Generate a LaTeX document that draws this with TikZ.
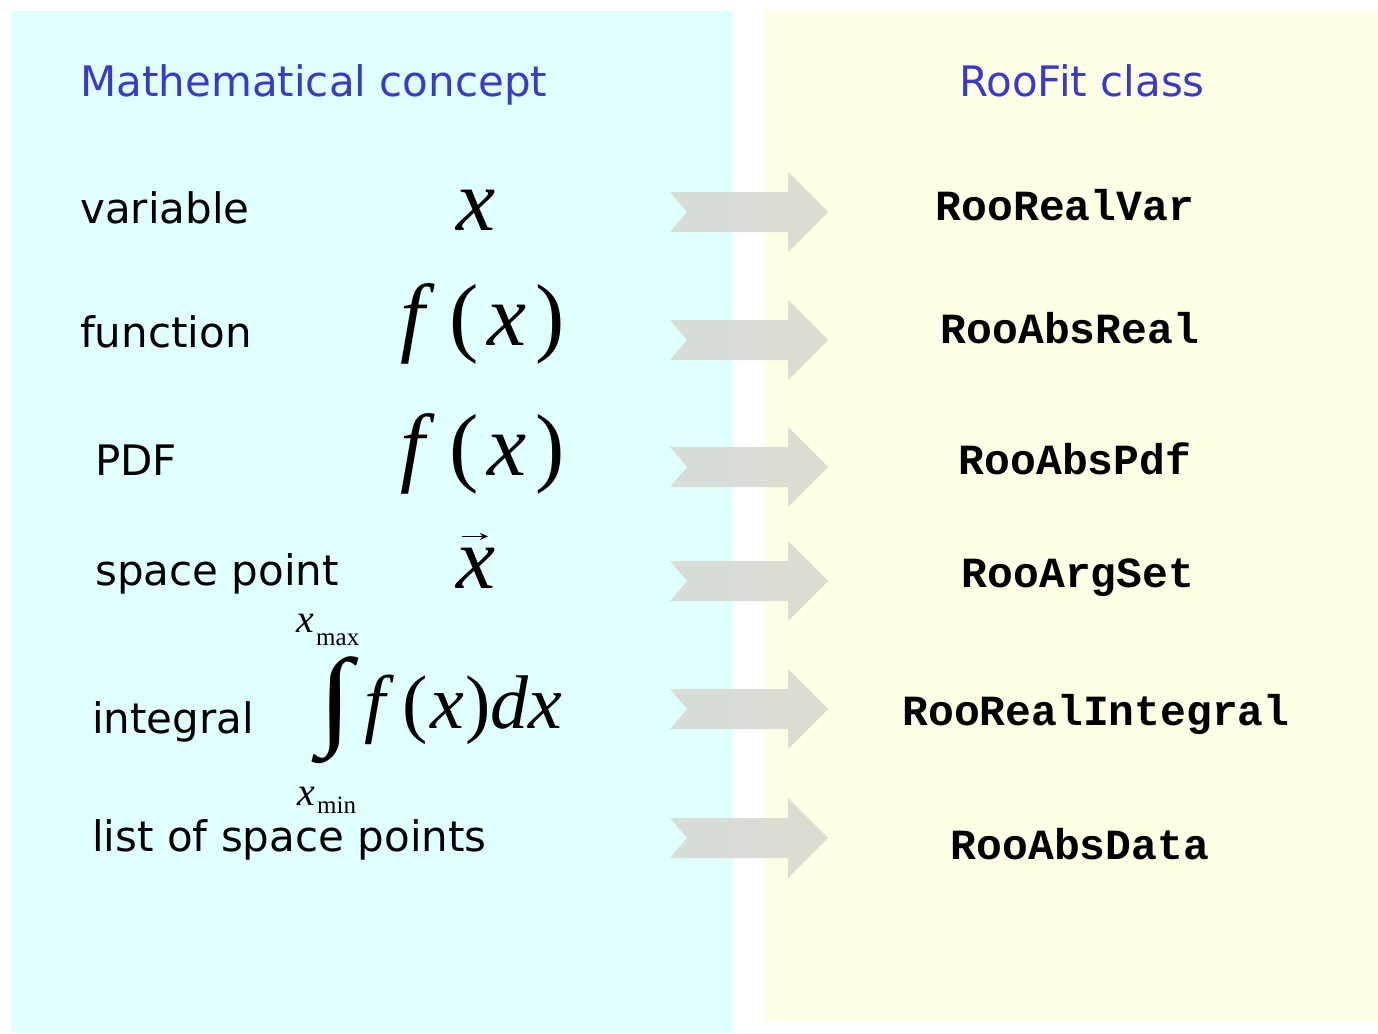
\documentclass[tikz,border=0pt]{standalone}
\usepackage{fontspec}
\usepackage{graphicx}
\usetikzlibrary{arrows.meta}
\newfontfamily\vfont{DejaVu Sans}
\newfontfamily\cfont{Liberation Mono}
\newfontfamily\tfont{Liberation Serif}
\definecolor{leftbg}{RGB}{224,255,255}
\definecolor{rightbg}{RGB}{255,255,230}
\definecolor{titleblue}{RGB}{58,58,200}
\definecolor{arrowgray}{RGB}{214,214,207}
\tikzset{
  concept/.style={anchor=base west, inner sep=0pt, font=\vfont\fontsize{42}{50}\selectfont},
  heading/.style={anchor=base, inner sep=0pt, text=titleblue, font=\vfont\fontsize{42}{50}\selectfont},
  cls/.style={anchor=base, inner sep=0pt, font=\cfont\bfseries\fontsize{43}{50}\selectfont},
  mth/.style={inner sep=0pt, font=\tfont\fontsize{88}{100}\selectfont},
  mths/.style={inner sep=0pt, font=\tfont\fontsize{76}{90}\selectfont},
  lim/.style={inner sep=0pt, anchor=base west, font=\tfont\fontsize{40}{44}\selectfont},
  limsub/.style={inner sep=0pt, anchor=base west, font=\tfont\fontsize{25}{30}\selectfont},
  blockarrow/.style={fill=arrowgray, fill opacity=0.85},
  pics/roarrow/.style={code={
    \fill[blockarrow] (-79,-20) -- (39,-20) -- (39,-40) -- (79,0) -- (39,40) -- (39,20) -- (-79,20) -- (-62,0) -- cycle;
  }}
}
\begin{document}
\begin{tikzpicture}[x=1pt,y=-1pt]
\useasboundingbox (0,0) rectangle (1378,1033);
\fill[white] (0,0) rectangle (1378,1033);
% panels
\fill[leftbg] (12,11) rectangle (733,1033);
\fill[rightbg] (765,11) rectangle (1378,1022);
% headings
\node[heading, anchor=base west] (hmath) at (80,96) {Mathematical concept};
\node[heading] (hroo) at (1082,96) {RooFit class};
% concept labels
\node[concept] (lvar) at (80,223) {variable};
\node[concept] (lfun) at (80,347) {function};
\node[concept] (lpdf) at (95,475) {PDF};
\node[concept] (lsp) at (95,585) {space point};
\node[concept] (lint) at (92,733) {integral};
\node[concept] (llist) at (92,851) {list of space points};
% math
\node[mth, anchor=base] (mvar) at (476,230) {\itshape x};
\node[mth, anchor=base west] (mfun) at (400,345) {{\itshape f}\kern0.28em(\kern0.1em{\itshape x}\kern0.1em)};
\node[mth, anchor=base west] (mpdf) at (400,475) {{\itshape f}\kern0.28em(\kern0.1em{\itshape x}\kern0.1em)};
\node[mth, anchor=base] (mvec) at (476,588) {\itshape x};
\draw[line width=1.4pt, -{Stealth[length=8pt,width=7pt]}] ([xshift=-14pt,yshift=11pt]mvec.north) -- ([xshift=12pt,yshift=11pt]mvec.north);
\node[inner sep=0pt, anchor=north west] (mintsign) at (318,656) {\resizebox*{34pt}{107pt}{\tfont ∫}};
\node[mths, anchor=base west] (mintegrand) at (364,728) {{\itshape f}\kern0.22em(\kern0.04em{\itshape x}\kern0.02em){\itshape dx}};
\node[lim] (mxmax) at (296,632) {\itshape x};
\node[limsub] (mmax) at (316,645) {max};
\node[lim] (mxmin) at (297,805) {\itshape x};
\node[limsub] (mmin) at (317,813) {min};
% arrows
\pic (a1) at (749,212) {roarrow};
\pic (a2) at (749,340) {roarrow};
\pic (a3) at (749,467) {roarrow};
\pic (a4) at (749,581) {roarrow};
\pic (a5) at (749,709) {roarrow};
\pic (a6) at (749,838) {roarrow};
% classes
\node[cls] (cvar) at (1065,220) {RooRealVar};
\node[cls] (creal) at (1070,343) {RooAbsReal};
\node[cls] (cpdf) at (1075,474) {RooAbsPdf};
\node[cls] (cset) at (1078,587) {RooArgSet};
\node[cls] (cint) at (1096,725) {RooRealIntegral};
\node[cls] (cdata) at (1080,859) {RooAbsData};
\end{tikzpicture}
\end{document}
